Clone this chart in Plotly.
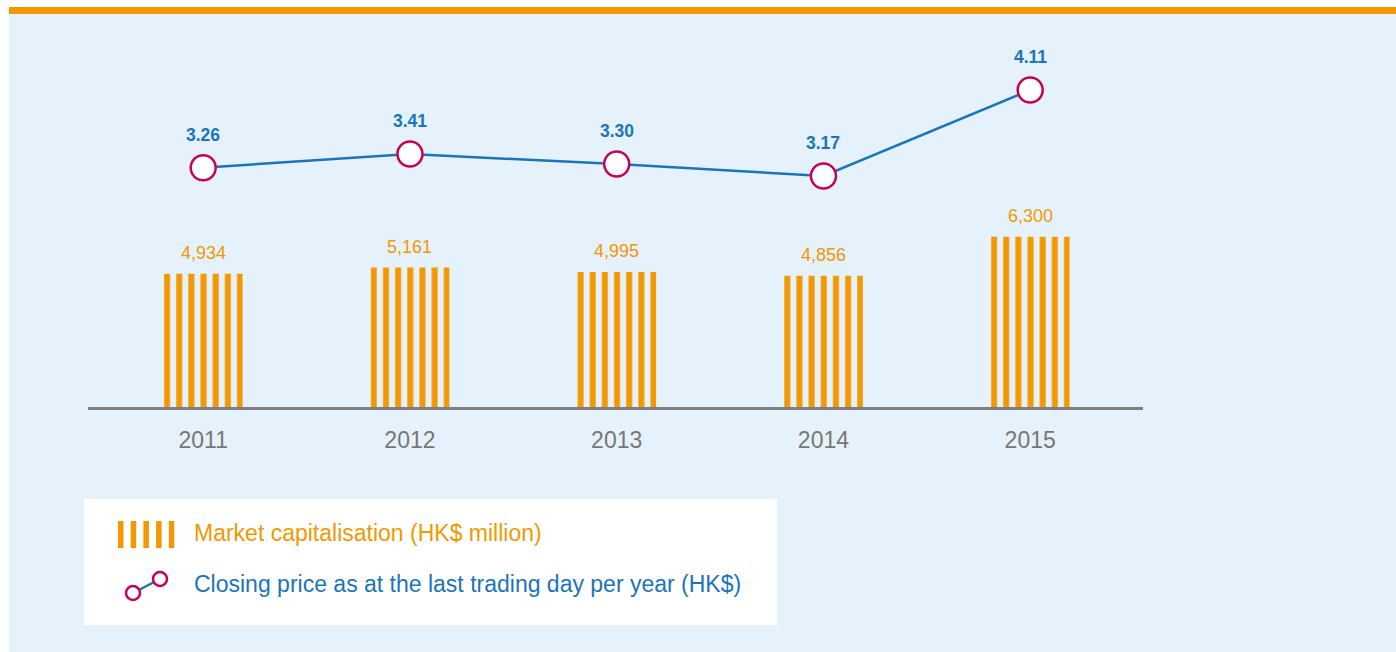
import plotly.graph_objects as go

years = ["2011", "2012", "2013", "2014", "2015"]
market_cap = [4934, 5161, 4995, 4856, 6300]
market_cap_labels = ["4,934", "5,161", "4,995", "4,856", "6,300"]
closing_price = [3.26, 3.41, 3.30, 3.17, 4.11]
closing_price_labels = ["3.26", "3.41", "3.30", "3.17", "4.11"]
legend_labels = ["Market capitalisation (HK$ million)",
                 "Closing price as at the last trading day per year (HK$)"]

ORANGE = "#F39800"
BLUE = "#1B75BB"
CRIMSON = "#C8005A"
BG = "#E5F2FB"
GRAY = "#7F7F7F"
FONT = "Liberation Sans, Arial, sans-serif"

W, H = 1396, 652
L, R, T, B = 88, 253, 40, 245
PW, PH = W - L - R, H - T - B
STEP, C0 = 206.75, 203.2  # pixel spacing of categories, centre of first one
XR = [(L - C0) / STEP, (W - R - C0) / STEP]
PERIOD = STEP / 17

fig = go.Figure()

fig.add_trace(go.Bar(
    x=years, y=market_cap, name=legend_labels[0], width=(6 * PERIOD + 6) / STEP,
    marker=dict(color=ORANGE, line=dict(width=0),
                pattern=dict(shape="|", size=PERIOD, solidity=6 / PERIOD,
                             fgcolor=ORANGE, bgcolor="rgba(0,0,0,0)",
                             fillmode="replace")),
    showlegend=False, hoverinfo="x+y",
))

fig.add_trace(go.Scatter(
    x=years, y=closing_price, yaxis="y2", name=legend_labels[1],
    mode="lines+markers",
    line=dict(color=BLUE, width=2.5),
    marker=dict(symbol="circle", size=25, color="white",
                line=dict(color=CRIMSON, width=2.5)),
    showlegend=False,
))

annotations = []
for i, (v, t) in enumerate(zip(market_cap, market_cap_labels)):
    annotations.append(dict(x=i, y=v, xref="x", yref="y", text=t, showarrow=False,
                            yshift=21, font=dict(family=FONT, size=18, color=ORANGE)))
for i, (v, t) in enumerate(zip(closing_price, closing_price_labels)):
    annotations.append(dict(x=i, y=v, xref="x", yref="y2", text="<b>" + t + "</b>",
                            showarrow=False, yshift=33,
                            font=dict(family=FONT, size=17.5, color=BLUE)))


def px(x):
    return (x - L) / PW


def py(y):
    return (H - B - y) / PH


annotations.append(dict(x=px(192), y=py(533), xref="paper", yref="paper", xanchor="left",
                        yanchor="middle", showarrow=False, text=legend_labels[0],
                        font=dict(family=FONT, size=23, color=ORANGE)))
annotations.append(dict(x=px(192), y=py(584), xref="paper", yref="paper", xanchor="left",
                        yanchor="middle", showarrow=False, text=legend_labels[1],
                        font=dict(family=FONT, size=23, color=BLUE)))

shapes = [
    dict(type="rect", xref="paper", yref="paper", x0=px(9), x1=px(W), y0=py(H), y1=py(14),
         fillcolor=BG, line=dict(width=0), layer="below"),
    dict(type="rect", xref="paper", yref="paper", x0=px(9), x1=px(W), y0=py(14), y1=py(7),
         fillcolor=ORANGE, line=dict(width=0), layer="below"),
    dict(type="rect", xref="paper", yref="paper", x0=px(84), x1=px(777), y0=py(625), y1=py(499),
         fillcolor="white", line=dict(width=0), layer="below"),
]
for i in range(5):
    x0 = 118 + i * 12.7
    shapes.append(dict(type="rect", xref="paper", yref="paper", x0=px(x0), x1=px(x0 + 5.5),
                       y0=py(548), y1=py(521), fillcolor=ORANGE, line=dict(width=0)))
shapes.append(dict(type="line", xref="paper", yref="paper", x0=px(133), y0=py(593),
                   x1=px(160), y1=py(579), line=dict(color=BLUE, width=2.5)))
for cx, cy in [(133, 593), (160, 579)]:
    r = 7
    shapes.append(dict(type="circle", xref="paper", yref="paper", x0=px(cx - r), x1=px(cx + r),
                       y0=py(cy + r), y1=py(cy - r), fillcolor="white",
                       line=dict(color=CRIMSON, width=2.5)))

fig.update_layout(
    width=W, height=H,
    margin=dict(l=L, r=R, t=T, b=B),
    paper_bgcolor="white",
    plot_bgcolor="rgba(0,0,0,0)",
    showlegend=False,
    xaxis=dict(type="category", range=XR, showgrid=False, zeroline=False,
               showline=True, linecolor=GRAY, linewidth=3, ticks="",
               ticklabelstandoff=10,
               tickfont=dict(family=FONT, size=23, color="#777777")),
    yaxis=dict(range=[0, 13580], visible=False, showgrid=False, zeroline=False),
    yaxis2=dict(range=[0.645, 4.656], overlaying="y", visible=False, showgrid=False,
                zeroline=False),
    shapes=shapes,
    annotations=annotations,
)

fig.write_html("out.html", config={"displayModeBar": False},
               post_script="document.body.style.margin='0';")
